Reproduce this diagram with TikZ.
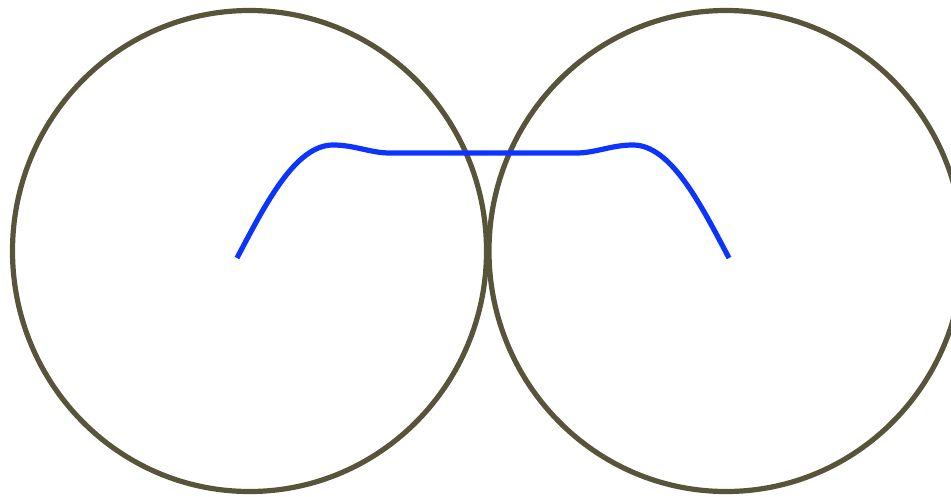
\documentclass[tikz,border=0pt]{standalone}
\definecolor{ringcol}{RGB}{88,84,58}
\definecolor{wirecol}{RGB}{12,52,255}
\tikzset{ring/.style={draw=ringcol,line width=5.2pt},
         wire/.style={draw=wirecol,line width=5.2pt}}
\begin{document}
\begin{tikzpicture}[x=1pt,y=-1pt]
\useasboundingbox (0,0) rectangle (951,496);
\clip (0,0) rectangle (951,496);
\draw[ring] (249.5,251) ellipse [x radius=237, y radius=240.5];
\draw[ring] (726,251) ellipse [x radius=237, y radius=240.5];
\draw[wire] (237,258) .. controls (265,205) and (295,145) .. (333,145)
  .. controls (355,145) and (370,153) .. (390,153) -- (483,153);
\draw[wire] (483,153) -- (576,153) .. controls (596,153) and (611,145) .. (633,145)
  .. controls (671,145) and (701,205) .. (729,258);
\end{tikzpicture}
\end{document}
